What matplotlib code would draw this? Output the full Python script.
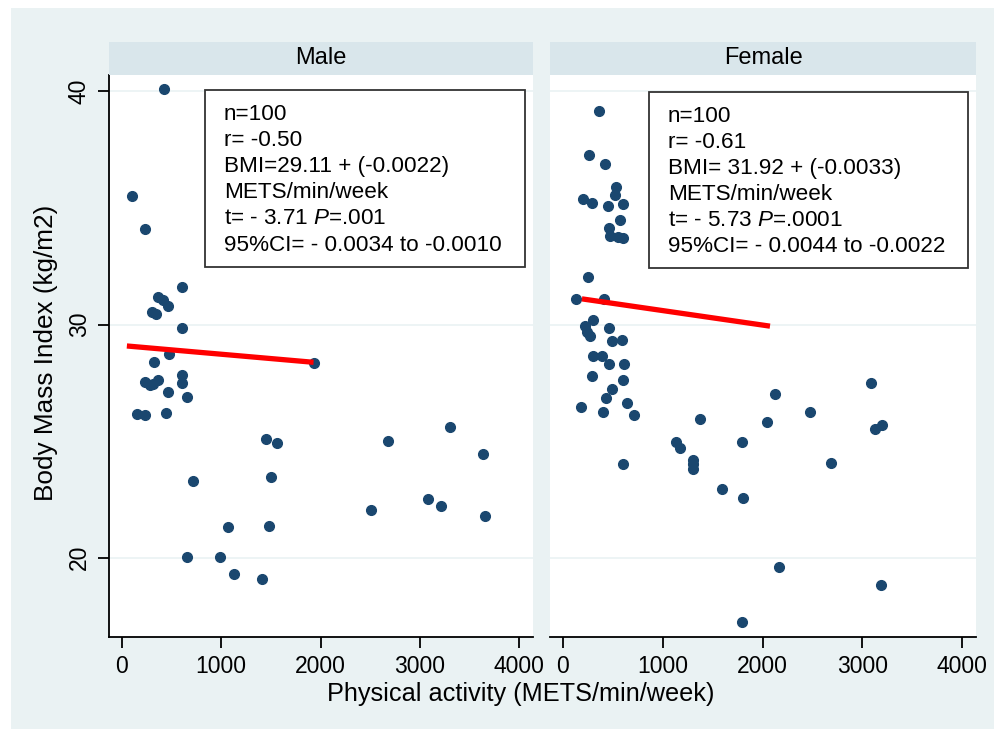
import matplotlib
matplotlib.use('Agg')
import matplotlib.pyplot as plt
from matplotlib.patches import Rectangle

#----------------------------------------------------------------------|
# Data

male_x = [424, 104, 232, 603, 367, 417, 461, 300, 343, 603,
          327, 478, 1933, 603, 603, 232, 283, 367, 316, 468,
          653, 148, 232, 441, 1455, 1562, 2680, 3303, 3640, 720,
          1502, 3084, 3212, 2512, 3660, 1067, 1485, 660, 990, 1125,
          1407]
male_y = [40.1, 35.5, 34.1, 31.6, 31.2, 31.05, 30.8, 30.55, 30.45, 29.85,
          28.4, 28.75, 28.35, 27.85, 27.5, 27.55, 27.4, 27.6, 27.45, 27.1,
          26.9, 26.15, 26.1, 26.2, 25.1, 24.9, 25.0, 25.6, 24.45, 23.3,
          23.45, 22.5, 22.2, 22.05, 21.8, 21.3, 21.35, 20.05, 20.05, 19.3,
          19.1]

female_x = [364, 264, 421, 532, 522, 204, 288, 448, 599, 572,
            465, 471, 555, 605, 248, 127, 414, 298, 221, 238,
            271, 465, 488, 589, 304, 388, 465, 612, 288, 599,
            495, 428, 181, 398, 645, 712, 2130, 1374, 2043, 3089,
            2477, 3129, 3196, 1133, 1174, 1798, 1301, 1301, 1301, 2688,
            605, 1592, 1802, 2170, 3190, 1798]
female_y = [39.15, 37.25, 36.9, 35.9, 35.55, 35.4, 35.2, 35.1, 35.15, 34.5,
            34.15, 33.8, 33.75, 33.7, 32.05, 31.1, 31.1, 30.2, 29.95, 29.7,
            29.5, 29.85, 29.3, 29.35, 28.65, 28.65, 28.3, 28.3, 27.8, 27.6,
            27.25, 26.85, 26.45, 26.25, 26.65, 26.1, 27.0, 25.95, 25.8, 27.5,
            26.25, 25.5, 25.7, 24.95, 24.7, 24.95, 24.2, 24.0, 23.8, 24.05,
            24.0, 22.95, 22.55, 19.6, 18.85, 17.25]

# fitted lines (end points)
male_fit_x = [50, 1930]
male_fit_y = [29.08, 28.38]
female_fit_x = [190, 2075]
female_fit_y = [31.10, 29.93]

panel_titles = ['Male', 'Female']
male_stats = ['n=100', 'r= -0.50', 'BMI=29.11 + (-0.0022)', 'METS/min/week',
              't= - 3.71 $P$=.001', '95%CI= - 0.0034 to -0.0010']
female_stats = ['n=100', 'r= -0.61', 'BMI= 31.92 + (-0.0033)', 'METS/min/week',
                't= - 5.73 $P$=.0001', '95%CI= - 0.0044 to -0.0022']

xticks = [0, 1000, 2000, 3000, 4000]
yticks = [20, 30, 40]

#----------------------------------------------------------------------|
# Style

plt.rcParams['font.family'] = ['Liberation Sans', 'DejaVu Sans']
plt.rcParams['mathtext.fontset'] = 'custom'
plt.rcParams['mathtext.rm'] = 'Liberation Sans'
plt.rcParams['mathtext.it'] = 'Liberation Sans:italic'

W, H = 994, 729
BG = '#eaf2f3'
STRIP = '#d9e6eb'
NAVY = '#1a476f'

def fx(px):
    return px / W

def fy(py):
    return 1 - py / H

fig = plt.figure(figsize=(W / 100, H / 100), dpi=100, facecolor='white')
fig.patches.append(Rectangle((fx(11), 0), 1 - fx(11), fy(8), transform=fig.transFigure,
                             facecolor=BG, edgecolor='none', zorder=-10))

panels = [(109, 533, male_x, male_y, male_fit_x, male_fit_y, male_stats, (205, 90, 525, 267)),
          (550, 976, female_x, female_y, female_fit_x, female_fit_y, female_stats, (649, 92, 968, 268))]

top, bottom, strip_top = 75, 637, 42
for i, (x0, x1, xs, ys, fxs, fys, stats, box) in enumerate(panels):
    ax = fig.add_axes([fx(x0), fy(bottom), fx(x1 - x0), (bottom - top) / H])
    ax.set_facecolor('white')
    ax.set_xlim(-130, 4140)
    ax.set_ylim(16.6, 40.7)
    ax.set_yticks(yticks)
    ax.set_xticks(xticks)
    ax.grid(axis='y', color=BG, lw=1.2, zorder=0)
    ax.set_axisbelow(True)
    for s in ['top', 'right']:
        ax.spines[s].set_visible(False)
    ax.spines['bottom'].set_linewidth(1.3)
    ax.tick_params(axis='x', length=8, width=1.3, pad=5, labelsize=16.5)
    if i == 0:
        ax.spines['left'].set_linewidth(1.3)
        ax.tick_params(axis='y', length=8, width=1.3, pad=5, labelsize=16.5)
        for lab in ax.get_yticklabels():
            lab.set_rotation(90)
            lab.set_va('center')
    else:
        ax.spines['left'].set_visible(False)
        ax.tick_params(axis='y', length=0, labelleft=False)

    ax.plot(xs, ys, 'o', color=NAVY, ms=7, mec=NAVY, zorder=3)
    ax.plot(fxs, fys, '-', color='#ff0000', lw=3.8, zorder=4, solid_capstyle='butt')

    # panel header strip
    fig.patches.append(Rectangle((fx(x0), fy(top)), fx(x1 - x0), (top - strip_top) / H,
                                 transform=fig.transFigure, facecolor=STRIP, edgecolor='none'))
    fig.text(fx((x0 + x1) / 2), fy((top + strip_top) / 2), panel_titles[i],
             ha='center', va='center', fontsize=17)

    # stats box
    bx0, by0, bx1, by1 = box
    fig.patches.append(Rectangle((fx(bx0), fy(by1)), fx(bx1 - bx0), (by1 - by0) / H,
                                 transform=fig.transFigure, facecolor='white',
                                 edgecolor='#333333', lw=1.3, zorder=5))
    for k, line in enumerate(stats):
        fig.text(fx(bx0 + 19), fy(by0 + 24 + 26.2 * k), line, ha='left', va='center',
                 fontsize=16.2, zorder=6)

fig.text(fx(521), fy(694), 'Physical activity (METS/min/week)', ha='center', va='center',
         fontsize=18.2)
fig.text(fx(46), fy(353), 'Body Mass Index (kg/m2)', ha='center', va='center',
         rotation=90, fontsize=18.8)

fig.savefig('out.png', dpi=100, facecolor='white')
